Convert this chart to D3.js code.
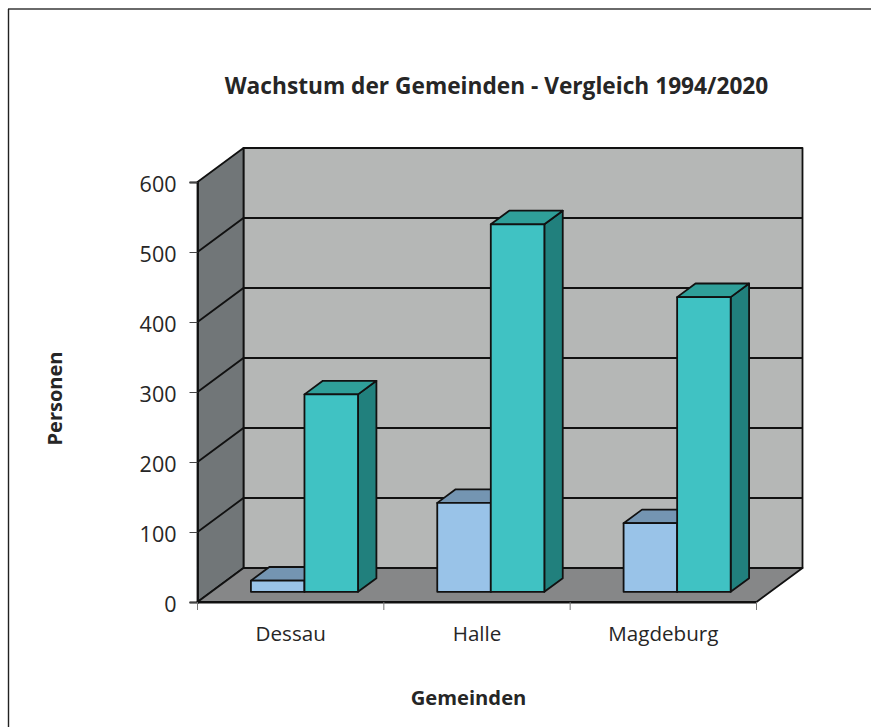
<!DOCTYPE html>
<html>
<head>
<meta charset="utf-8">
<script src="https://cdn.jsdelivr.net/npm/d3@7"></script>
<style>
  html, body { margin: 0; padding: 0; background: #fff; }
  svg { display: block; }
  text { font-family: "Open Sans", "Noto Sans", sans-serif; fill: #262626; }
</style>
</head>
<body>
<svg id="chart"></svg>
<script>
const categories = ['Dessau', 'Halle', 'Magdeburg'];
const years = ['1994', '2020'];
const values1994 = [16, 127, 98];
const values2020 = [282, 525, 421];
const yTicks = [0, 100, 200, 300, 400, 500, 600];

const svgWidth = 871;
const svgHeight = 727;

const svg = d3.select('#chart')
  .attr('width', svgWidth)
  .attr('height', svgHeight);

// chart frame, only top and left edges are inside the picture
svg.append('line')
  .attr('x1', 8).attr('x2', 871).attr('y1', 9).attr('y2', 9)
  .attr('stroke', '#6a6a6a').attr('stroke-width', 2);
svg.append('line')
  .attr('x1', 8.5).attr('x2', 8.5).attr('y1', 9).attr('y2', 727)
  .attr('stroke', '#222').attr('stroke-width', 1.4);

const xScale = d3.scaleBand()
  .domain(categories)
  .range([197.5, 756.5]);
const barScale = d3.scaleBand()
  .domain(years)
  .range([0, xScale.bandwidth()])
  .paddingInner(0)
  .paddingOuter(0.74);
const yScale = d3.scaleLinear()
  .domain([0, 600])
  .range([602, 182]);

// depth of the box, 0 is the front and 1 the back wall
const depthX = 46;
const depthY = -34;
const project = (x, y, depth) => [x + depth * depthX, y + depth * depthY];
const poly = pts => 'M' + pts.map(p => p.join(',')).join('L') + 'Z';

const walls = svg.append('g')
  .attr('stroke', '#111')
  .attr('stroke-width', 1.8)
  .attr('stroke-linejoin', 'round');

const x0 = xScale.range()[0];
const x1 = xScale.range()[1];
const yBase = yScale(0);
const yTop = yScale(600);

walls.append('path')
  .attr('fill', '#b5b7b6')
  .attr('d', poly([project(x0, yBase, 1), project(x1, yBase, 1), project(x1, yTop, 1), project(x0, yTop, 1)]));
walls.append('path')
  .attr('fill', '#717678')
  .attr('d', poly([project(x0, yBase, 0), project(x0, yBase, 1), project(x0, yTop, 1), project(x0, yTop, 0)]));
walls.append('path')
  .attr('fill', '#868788')
  .attr('d', poly([project(x0, yBase, 0), project(x1, yBase, 0), project(x1, yBase, 1), project(x0, yBase, 1)]));

// gridlines run along the side wall and across the back wall
svg.append('g')
  .selectAll('path')
  .data(yTicks.filter(d => d > 0 && d < 600))
  .join('path')
  .attr('fill', 'none')
  .attr('stroke', '#111')
  .attr('stroke-width', 1.8)
  .attr('d', d => {
    const a = project(x0, yScale(d), 0);
    const b = project(x0, yScale(d), 1);
    const c = project(x1, yScale(d), 1);
    return 'M' + [a, b, c].map(p => p.join(',')).join('L');
  });

// bars sit in the middle of the floor depth
const barFront = 0.3;
const barBack = 0.7;
const barColors = {
  '1994': { front: '#99c3e8', top: '#7495b2', side: '#5f7c96' },
  '2020': { front: '#40c2c3', top: '#2f9f99', side: '#21807d' }
};

const drawBar = (cat, year, value) => {
  const left = xScale(cat) + barScale(year);
  const right = left + barScale.bandwidth();
  const yv = yScale(value);
  const c = barColors[year];
  const g = svg.append('g')
    .attr('stroke', '#111')
    .attr('stroke-width', 1.8)
    .attr('stroke-linejoin', 'round');
  g.append('path').attr('fill', c.side)
    .attr('d', poly([project(right, yBase, barFront), project(right, yBase, barBack), project(right, yv, barBack), project(right, yv, barFront)]));
  g.append('path').attr('fill', c.top)
    .attr('d', poly([project(left, yv, barFront), project(right, yv, barFront), project(right, yv, barBack), project(left, yv, barBack)]));
  g.append('path').attr('fill', c.front)
    .attr('d', poly([project(left, yBase, barFront), project(right, yBase, barFront), project(right, yv, barFront), project(left, yv, barFront)]));
};

categories.forEach((cat, i) => {
  drawBar(cat, '1994', values1994[i]);
  drawBar(cat, '2020', values2020[i]);
});

// axes
const yAxis = d3.axisLeft(yScale)
  .tickValues(yTicks)
  .tickSize(8)
  .tickPadding(13)
  .tickFormat(d3.format('d'));
const yG = svg.append('g')
  .attr('transform', `translate(${x0},0)`)
  .call(yAxis);
yG.select('.domain').attr('stroke', '#111').attr('stroke-width', 1.8);
yG.selectAll('.tick line').attr('stroke', '#444');
yG.selectAll('text').style('font-size', '21.5px').attr('dy', '0.42em').attr('fill', '#262626');

const xAxis = d3.axisBottom(xScale)
  .tickSize(0)
  .tickPadding(24);
const xG = svg.append('g')
  .attr('transform', `translate(0,${yBase})`)
  .call(xAxis);
xG.select('.domain').attr('stroke', '#111').attr('stroke-width', 1.8);
xG.selectAll('text').style('font-size', '20.6px').attr('fill', '#262626');

// ticks between categories
xG.selectAll('.bound')
  .data([x0, x0 + xScale.step(), x0 + 2 * xScale.step(), x1])
  .join('line')
  .attr('class', 'bound')
  .attr('x1', d => d)
  .attr('x2', d => d)
  .attr('y1', 0)
  .attr('y2', 8)
  .attr('stroke', '#777')
  .attr('stroke-width', 1);

svg.append('text')
  .attr('x', 496.5)
  .attr('y', 94)
  .attr('text-anchor', 'middle')
  .style('font-size', '22.7px')
  .style('font-weight', 700)
  .text('Wachstum der Gemeinden - Vergleich 1994/2020');

svg.append('text')
  .attr('x', 468.5)
  .attr('y', 705)
  .attr('text-anchor', 'middle')
  .style('font-size', '20.2px')
  .style('font-weight', 700)
  .text('Gemeinden');

svg.append('text')
  .attr('transform', 'translate(62,398.5) rotate(-90)')
  .attr('text-anchor', 'middle')
  .style('font-size', '20px')
  .style('font-weight', 700)
  .text('Personen');
</script>
</body>
</html>
